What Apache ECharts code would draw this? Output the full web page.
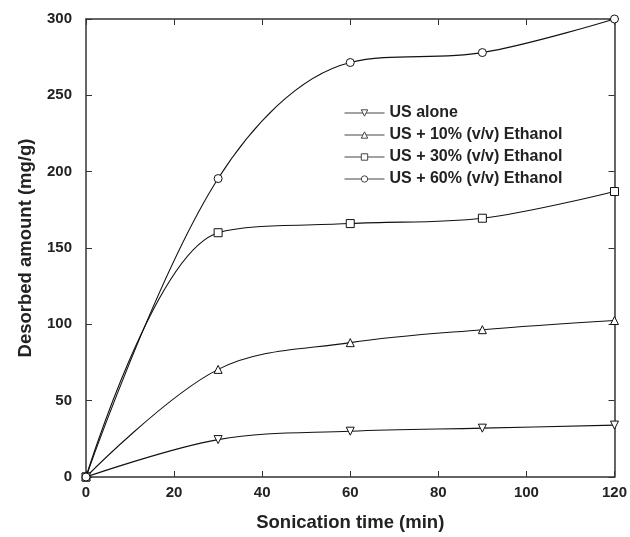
<!DOCTYPE html>
<html><head><meta charset="utf-8">
<script src="https://cdn.jsdelivr.net/npm/echarts@6/dist/echarts.min.js"></script>
<style>html,body{margin:0;padding:0;background:#fff}#c{width:630px;height:537px}</style>
</head><body><div id="c"></div>
<script>
const times = [0, 30, 60, 90, 120];
const usAlone = [0, 24.5, 30, 32, 34];
const us10 = [0, 70.5, 88, 96.5, 102.5];
const us30 = [0, 160, 166, 169.5, 187];
const us60 = [0, 195.5, 271.5, 278, 300];
const seriesNames = ['US alone', 'US + 10% (v/v) Ethanol', 'US + 30% (v/v) Ethanol', 'US + 60% (v/v) Ethanol'];
const xTicks = [0, 20, 40, 60, 80, 100, 120];
const yTicks = [0, 50, 100, 150, 200, 250, 300];

const font = 'Liberation Sans, Arial, sans-serif';
function mk(name, vals, symbol, rot) {
  return {
    name, type: 'line', data: times.map((t, i) => [t, vals[i]]),
    smooth: 0.35, symbol, symbolSize: 8, symbolRotate: rot || 0,
    showAllSymbol: true,
    lineStyle: { color: '#111', width: 1.1 },
    itemStyle: { color: '#fff', borderColor: '#111', borderWidth: 1 },
    emphasis: { disabled: true }, z: 3
  };
}
const axisCommon = {
  axisLine: { show: true, onZero: false, lineStyle: { color: '#333', width: 1.5 } },
  axisTick: { show: true, inside: true, length: 6, lineStyle: { color: '#333', width: 1 } },
  splitLine: { show: false }
};
const chart = echarts.init(document.getElementById('c'), null, { renderer: 'canvas' });
chart.setOption({
  animation: false,
  backgroundColor: '#fff',
  grid: { left: 86, right: 14, top: 19, bottom: 55 },
  legend: {
    orient: 'vertical', left: 339, top: 100, itemWidth: 40, itemHeight: 8, itemGap: 6,
    data: seriesNames,
    lineStyle: { width: 1, color: '#444' },
    itemStyle: { borderWidth: 1, borderColor: '#444', color: '#fff' },
    textStyle: { fontFamily: font, fontWeight: 'bold', fontSize: 16, color: '#222' },
    selectedMode: false
  },
  xAxis: [
    Object.assign({}, axisCommon, {
      type: 'value', min: 0, max: 120, interval: 20, position: 'bottom',
      name: 'Sonication time (min)', nameLocation: 'middle', nameGap: 36,
      nameTextStyle: { fontFamily: font, fontWeight: 'bold', fontSize: 18.5, color: '#222' },
      axisLabel: { fontFamily: font, fontWeight: 'bold', fontSize: 15, color: '#222', margin: 8 }
    }),
    Object.assign({}, axisCommon, {
      type: 'value', min: 0, max: 120, interval: 20, position: 'top',
      axisLabel: { show: false }
    })
  ],
  yAxis: [
    Object.assign({}, axisCommon, {
      type: 'value', min: 0, max: 300, interval: 50, position: 'left',
      name: 'Desorbed amount (mg/g)', nameLocation: 'middle', nameGap: 51,
      nameTextStyle: { fontFamily: font, fontWeight: 'bold', fontSize: 18.5, color: '#222' },
      axisLabel: { fontFamily: font, fontWeight: 'bold', fontSize: 15, color: '#222', margin: 14 }
    }),
    Object.assign({}, axisCommon, {
      type: 'value', min: 0, max: 300, interval: 50, position: 'right',
      axisLabel: { show: false }
    })
  ],
  series: [
    mk(seriesNames[0], usAlone, 'triangle', 180),
    mk(seriesNames[1], us10, 'triangle'),
    mk(seriesNames[2], us30, 'rect'),
    mk(seriesNames[3], us60, 'circle')
  ]
});
</script></body></html>
